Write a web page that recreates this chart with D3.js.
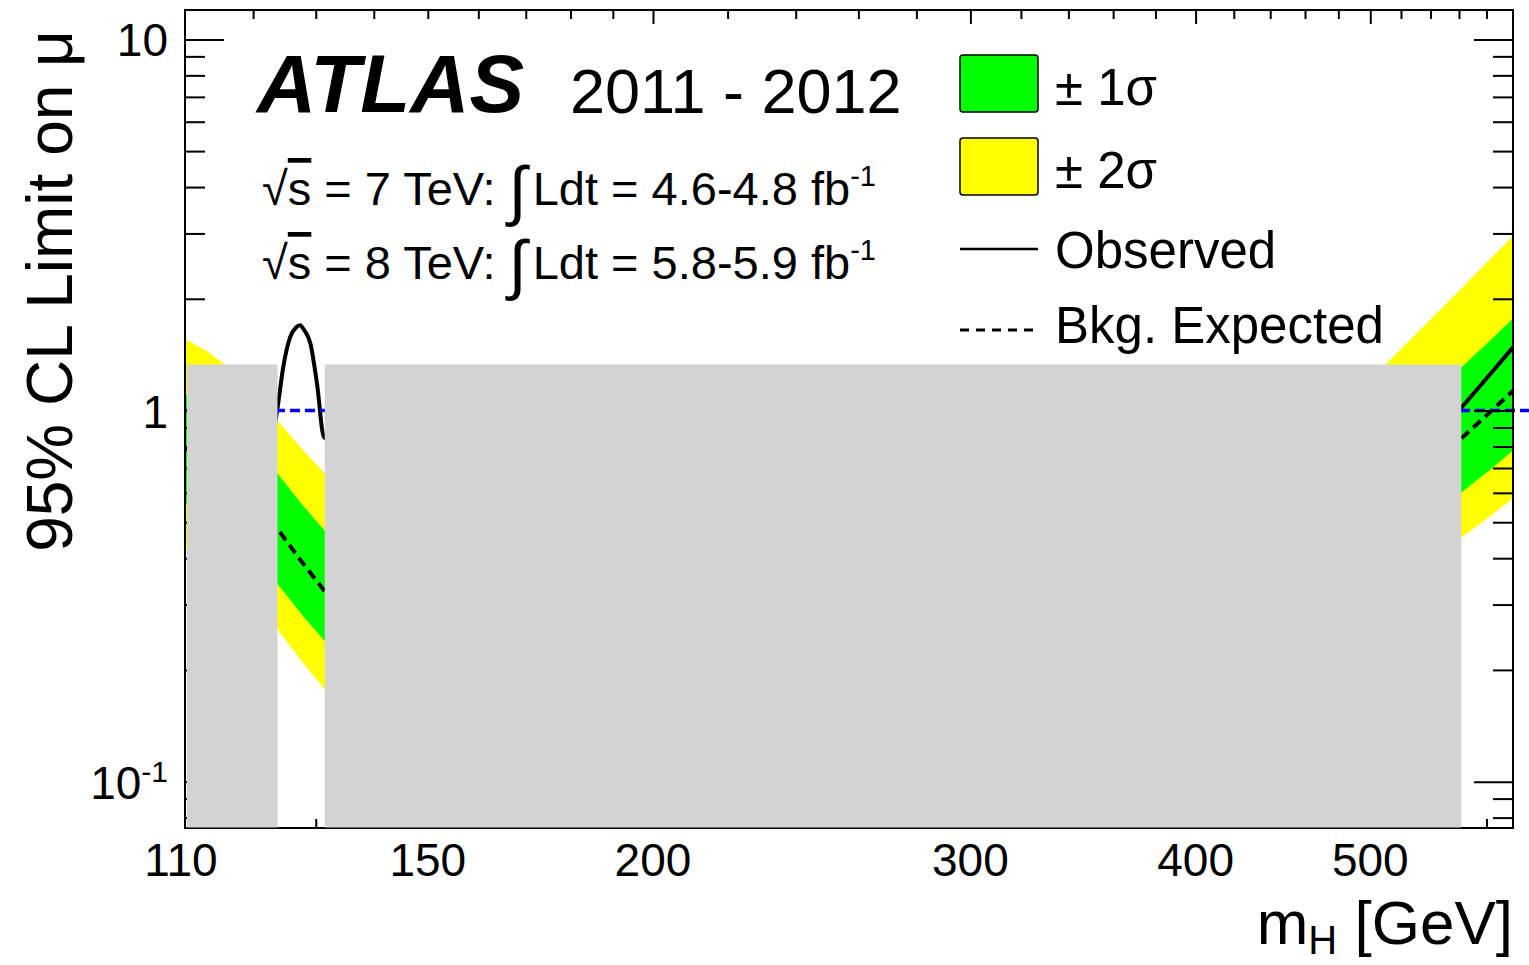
<!DOCTYPE html>
<html><head><meta charset="utf-8">
<script src="https://cdn.jsdelivr.net/npm/d3@7"></script>
<style>
body{margin:0;background:#fff}
svg{display:block}
text{font-family:"Liberation Sans",Arial,Helvetica,sans-serif;fill:#000}
</style>
</head><body>
<svg id="c" width="1529" height="965"></svg>
<script>
// ---------------- data ----------------
// expected limit and bands (mass in GeV)
const bandMass = [110, 113, 116, 123.8, 127.7, 131.5, 500, 520, 540, 560, 580, 600];
const expected = [0.79, 0.74, 0.68, 0.480, 0.391, 0.326, 0.49, 0.59, 0.70, 0.83, 0.97, 1.13];
const plus1    = [1.11, 1.04, 0.95, 0.676, 0.559, 0.474, 0.77, 0.92, 1.09, 1.29, 1.51, 1.77];
const minus1   = [0.564, 0.53, 0.49, 0.341, 0.282, 0.239, 0.345, 0.414, 0.49, 0.595, 0.68, 0.78];
const plus2    = [1.555, 1.45, 1.32, 0.940, 0.789, 0.676, 1.21, 1.465, 1.76, 2.10, 2.50, 2.95];
const minus2   = [0.424, 0.40, 0.37, 0.2575, 0.211, 0.177, 0.255, 0.31, 0.37, 0.45, 0.51, 0.58];
// observed limit
const obsMass  = [123.5, 123.9, 124.7, 125.8, 126.8, 127.4, 128.1, 129.1, 130.2, 131.4, 520, 540, 560, 580, 600];
const observed = [0.94, 1.044, 1.307, 1.575, 1.676, 1.697, 1.645, 1.517, 1.183, 0.845, 0.66, 0.815, 1.0, 1.22, 1.48];
// grey (excluded / not shown) mass windows, and their upper edge in mu
const greyStart = [110.28, 131.5];
const greyEnd   = [123.8, 561.6];
const greyTop   = 1.33;
const muRef = 1;
// axes
const xDomain = [110, 600];
const yDomain = [0.075, 12];
const xLabels = [110, 150, 200, 300, 400, 500];
const xMajor  = [200, 300, 400, 500];
const xMinor  = [120, 130, 140, 150, 160, 170, 180, 190, 220, 240, 260, 280, 320, 340, 360, 380, 420, 440, 460, 480, 520, 540, 560, 580];
const yMajor  = [0.1, 1, 10];
const yMinor  = [0.08, 0.09, 0.2, 0.3, 0.4, 0.5, 0.6, 0.7, 0.8, 0.9, 2, 3, 4, 5, 6, 7, 8, 9];
const legendItems = ["± 1σ", "± 2σ", "Observed", "Bkg. Expected"];

// ---------------- drawing ----------------
const W = 1529, H = 965;
const L = 185, R = 1513, T = 10, B = 828;
const svg = d3.select("#c");
const x = d3.scaleLog().domain(xDomain).range([L, R]);
const y = d3.scaleLog().domain(yDomain).range([B, T]);

svg.append("rect").attr("width", W).attr("height", H).attr("fill", "#fff");
svg.append("defs").append("clipPath").attr("id", "clip")
  .append("rect").attr("x", L).attr("y", T).attr("width", R - L).attr("height", B - T);

const band = bandMass.map((m, i) => ({m, e: expected[i], p1: plus1[i], m1: minus1[i], p2: plus2[i], m2: minus2[i]}));
const obs = obsMass.map((m, i) => ({m, v: observed[i]}));

const plot = svg.append("g").attr("clip-path", "url(#clip)");
plot.append("path").datum(band)
  .attr("d", d3.area().x(d => x(d.m)).y0(d => y(d.m2)).y1(d => y(d.p2)))
  .attr("fill", "#ffff00");
plot.append("path").datum(band)
  .attr("d", d3.area().x(d => x(d.m)).y0(d => y(d.m1)).y1(d => y(d.p1)))
  .attr("fill", "#00ff00");
plot.append("path").datum(band)
  .attr("d", d3.line().x(d => x(d.m)).y(d => y(d.e)))
  .attr("fill", "none").attr("stroke", "#000").attr("stroke-width", 4)
  .attr("stroke-dasharray", "10,6");
plot.append("path").datum(obs)
  .attr("d", d3.line().curve(d3.curveMonotoneX).x(d => x(d.m)).y(d => y(d.v)))
  .attr("fill", "none").attr("stroke", "#000").attr("stroke-width", 4);

// mu = 1 reference line (runs past the frame to the page edge)
svg.append("line")
  .attr("x1", x(xDomain[0])).attr("x2", W)
  .attr("y1", y(muRef)).attr("y2", y(muRef))
  .attr("stroke", "#0000ff").attr("stroke-width", 3.5).attr("stroke-dasharray", "10,5");

// axes ticks
function ticks(axisGen, tx, ty, vals, size) {
  const g = svg.append("g").attr("transform", `translate(${tx},${ty})`)
    .call(axisGen.tickValues(vals).tickSize(size).tickFormat(""));
  g.select(".domain").remove();
  g.selectAll("line").attr("stroke", "#000").attr("stroke-width", 2);
}
ticks(d3.axisBottom(x), 0, T, xMajor, 14);
ticks(d3.axisBottom(x), 0, T, xMinor, 9);
ticks(d3.axisTop(x), 0, B, xMajor, 14);
ticks(d3.axisTop(x), 0, B, xMinor, 9);
ticks(d3.axisRight(y), L, 0, yMajor, 39);
ticks(d3.axisRight(y), L, 0, yMinor, 20);
ticks(d3.axisLeft(y), R, 0, yMajor, 39);
ticks(d3.axisLeft(y), R, 0, yMinor, 20);
svg.append("rect").attr("x", L).attr("y", T).attr("width", R - L).attr("height", B - T)
  .attr("fill", "none").attr("stroke", "#000").attr("stroke-width", 2);

// grey boxes
greyStart.forEach((s, i) => {
  svg.append("rect")
    .attr("x", x(s)).attr("width", x(greyEnd[i]) - x(s))
    .attr("y", y(greyTop)).attr("height", B - 0.5 - y(greyTop))
    .attr("fill", "#d3d3d3");
});

// tick labels
xLabels.forEach(v => {
  svg.append("text").attr("x", x(v) - (v === 110 ? 4 : 0)).attr("y", 876)
    .attr("text-anchor", "middle").attr("font-size", 46).text(v);
});
yMajor.forEach(v => {
  const t = svg.append("text").attr("x", 168).attr("y", y(v) + 17)
    .attr("text-anchor", "end").attr("font-size", 46);
  if (v < 1) {
    t.append("tspan").text("10");
    t.append("tspan").attr("font-size", 30).attr("dy", -17).text("-1");
  } else t.text(v);
});

// axis titles
svg.append("text").attr("transform", "translate(72,30) rotate(-90)")
  .attr("text-anchor", "end").attr("font-size", 64).text("95% CL Limit on μ");
const xt = svg.append("text").attr("x", R).attr("y", 944)
  .attr("text-anchor", "end").attr("font-size", 62);
xt.append("tspan").text("m");
xt.append("tspan").attr("font-size", 40).attr("dy", 10).text("H");
xt.append("tspan").attr("dy", -10).text(" [GeV]");

// ATLAS label
const at = svg.append("text").attr("x", 257).attr("y", 112).attr("font-size", 82);
at.append("tspan").attr("font-weight", "bold").attr("font-style", "italic").text("ATLAS");
svg.append("text").attr("x", 570).attr("y", 113).attr("font-size", 63).text("2011 - 2012");

function lumiLine(yb, energy, lumi) {
  const t = svg.append("text").attr("x", 262).attr("y", yb).attr("font-size", 47);
  t.append("tspan").text("√");
  t.append("tspan").style("text-decoration", "overline").text("s");
  t.append("tspan").text(` = ${energy} TeV: `);
  t.append("tspan").attr("font-size", 66).attr("dy", 8).text("∫");
  t.append("tspan").attr("dy", -8).attr("dx", 6).text(`Ldt = ${lumi} fb`);
  t.append("tspan").attr("font-size", 29).attr("dy", -19).text("-1");
}
lumiLine(205, 7, "4.6-4.8");
lumiLine(279, 8, "5.8-5.9");

// legend
const lg = svg.append("g");
const boxX = 960, boxW = 78;
lg.append("rect").attr("x", boxX).attr("y", 55).attr("width", boxW).attr("height", 57)
  .attr("rx", 3).attr("fill", "#00ff00").attr("stroke", "#000").attr("stroke-width", 1.5);
lg.append("rect").attr("x", boxX).attr("y", 138).attr("width", boxW).attr("height", 57)
  .attr("rx", 3).attr("fill", "#ffff00").attr("stroke", "#000").attr("stroke-width", 1.5);
lg.append("line").attr("x1", boxX).attr("x2", boxX + boxW).attr("y1", 249).attr("y2", 249)
  .attr("stroke", "#000").attr("stroke-width", 2.5);
lg.append("line").attr("x1", boxX).attr("x2", boxX + boxW).attr("y1", 330).attr("y2", 330)
  .attr("stroke", "#000").attr("stroke-width", 3.2).attr("stroke-dasharray", "9,7");
[105, 188, 268, 343].forEach((yb, i) => {
  lg.append("text").attr("x", 1055).attr("y", yb).attr("font-size", 51).text(legendItems[i]);
});
</script>
</body></html>
